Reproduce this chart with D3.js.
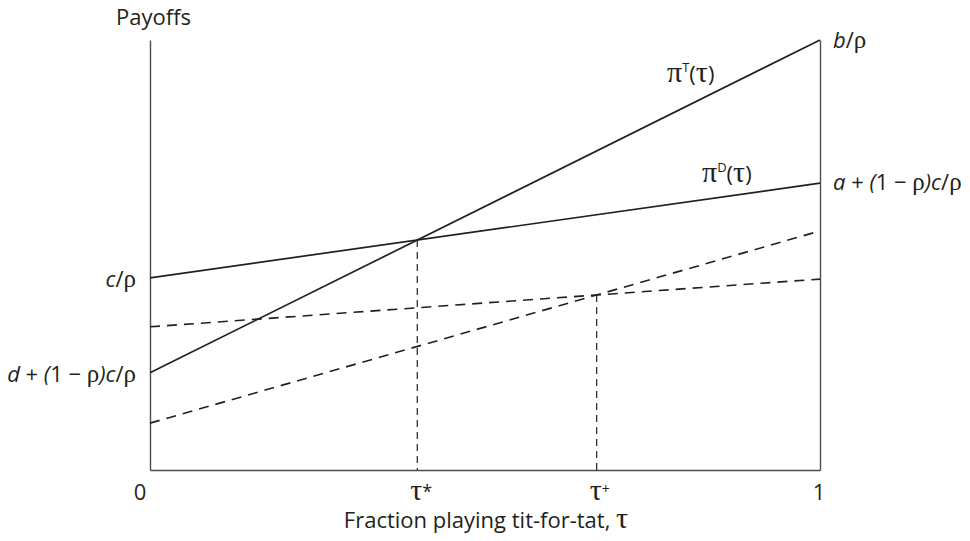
<!DOCTYPE html>
<html>
<head>
<meta charset="utf-8">
<script src="https://cdn.jsdelivr.net/npm/d3@7"></script>
<style>
  body { margin: 0; background: #fff; }
  text { font-family: "Open Sans", sans-serif; fill: #231f20; }
  tspan.greek { font-family: "Liberation Serif", serif; }
  tspan.it { font-style: italic; }
</style>
</head>
<body>
<div id="chart"></div>
<script>
// Payoff lines, value at tau = 0 and tau = 1 (payoff units, 0..100)
var tauEnds = [0, 1];
var payoffTFT = [22.6, 100];      // pi^T(tau), solid
var payoffD = [44.7, 66.7];       // pi^D(tau), solid
var payoffDLow = [33.3, 44.4];    // shifted pi^D, dashed
var payoffTFTLow = [10.9, 55.6];  // shifted pi^T, dashed

var xTicks = ["0", "1"];

var width = 970, height = 541;
var margin = { top: 40, right: 150, bottom: 71, left: 150 };

var svg = d3.select("#chart").append("svg")
  .attr("width", width)
  .attr("height", height);

var x = d3.scaleLinear().domain([0, 1]).range([margin.left, width - margin.right]);
var y = d3.scaleLinear().domain([0, 100]).range([height - margin.bottom, margin.top]);

// axes frame (left, bottom, right)
var axisStyle = function (g) {
  g.select(".domain").attr("stroke", "#4d4d4f").attr("stroke-width", 1.4);
  g.selectAll(".tick").remove();
};
svg.append("g")
  .attr("transform", "translate(" + x(0) + ",0)")
  .call(d3.axisLeft(y).tickValues([]).tickSizeOuter(0))
  .call(axisStyle);
svg.append("g")
  .attr("transform", "translate(0," + y(0) + ")")
  .call(d3.axisBottom(x).tickValues([]).tickSizeOuter(0))
  .call(axisStyle);
svg.append("g")
  .attr("transform", "translate(" + x(1) + ",0)")
  .call(d3.axisRight(y).tickValues([]).tickSizeOuter(0))
  .call(axisStyle);

function pts(vals) {
  return tauEnds.map(function (t, i) { return [t, vals[i]]; });
}
var line = d3.line()
  .x(function (d) { return x(d[0]); })
  .y(function (d) { return y(d[1]); });

// where two straight lines cross
function cross(a, b) {
  var t = (b[0] - a[0]) / ((a[1] - a[0]) - (b[1] - b[0]));
  return [t, a[0] + (a[1] - a[0]) * t];
}
var star = cross(payoffTFT, payoffD);
var plus = cross(payoffTFTLow, payoffDLow);

// vertical guides
[star, plus].forEach(function (p) {
  svg.append("line")
    .attr("x1", x(p[0])).attr("x2", x(p[0]))
    .attr("y1", y(p[1])).attr("y2", y(0))
    .attr("stroke", "#231f20")
    .attr("stroke-width", 1.2)
    .attr("stroke-dasharray", "7,5");
});

// dashed payoff lines
[payoffDLow, payoffTFTLow].forEach(function (v) {
  svg.append("path")
    .datum(pts(v))
    .attr("d", line)
    .attr("fill", "none")
    .attr("stroke", "#231f20")
    .attr("stroke-width", 1.6)
    .attr("stroke-dasharray", "10,7");
});

// solid payoff lines
[payoffTFT, payoffD].forEach(function (v) {
  svg.append("path")
    .datum(pts(v))
    .attr("d", line)
    .attr("fill", "none")
    .attr("stroke", "#231f20")
    .attr("stroke-width", 1.7);
});

var fs = 22;
var TAU = ["\u03c4", "greek", 0, 30];
var RHO = ["\u03c1", "greek", 0, 25];
var PI = ["\u03c0", "greek", 0, 30];

// tiny helper: parts = [[text, class, dy, size], ...]
function label(px, py, anchor, parts) {
  var t = svg.append("text")
    .attr("x", px).attr("y", py)
    .attr("text-anchor", anchor)
    .style("font-size", fs + "px");
  parts.forEach(function (p) {
    var s = t.append("tspan").text(p[0]);
    if (p[1]) s.attr("class", p[1]);
    if (p[2]) s.attr("dy", p[2]);
    if (p[3]) s.style("font-size", p[3] + "px");
  });
  return t;
}

// y-axis title
label(116, 25, "start", [["Payoffs"]]);

// x tick labels
label(x(0) - 10, 500, "middle", [[xTicks[0]]]);
label(x(1) - 1, 500, "middle", [[xTicks[1]]]);
label(x(star[0]) - 7, 500, "start", [TAU, ["*", null, -2, 18]]);
label(x(plus[0]) - 7, 500, "start", [TAU, ["+", null, -6, 14]]);

// x-axis title
label((x(0) + x(1)) / 2 + 1, 528, "middle", [["Fraction playing tit-for-tat, "], TAU]);

// end labels, right
label(x(1) + 13, y(payoffTFT[1]) + 8, "start", [["b", "it"], ["/"], RHO]);
label(x(1) + 13, y(payoffD[1]) + 7, "start",
  [["a", "it"], [" + "], ["(", "it"], ["1 \u2212 "], RHO, [")", "it"], ["c", "it"], ["/"], RHO]);

// end labels, left
label(x(0) - 14, y(payoffD[0]) + 9, "end", [["c", "it"], ["/"], RHO]);
label(x(0) - 14, y(payoffTFT[0]) + 9, "end",
  [["d", "it"], [" + "], ["(", "it"], ["1 \u2212 "], RHO, [")", "it"], ["c", "it"], ["/"], RHO]);

// line names
label(667, 82, "start", [PI, ["T", null, -10, 13], ["(", null, 10], TAU, [")"]]);
label(702, 182, "start", [PI, ["D", null, -10, 13], ["(", null, 10], TAU, [")"]]);
</script>
</body>
</html>
